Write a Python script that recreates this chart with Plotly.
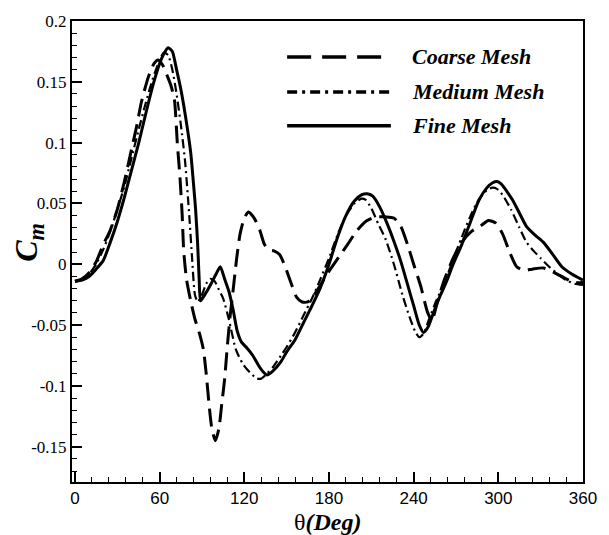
import plotly.graph_objects as go

# ---------------- data ----------------
series_names = ["Coarse Mesh", "Medium Mesh", "Fine Mesh"]

theta_coarse = [0, 5, 10, 15, 20, 25, 30, 35, 40, 44, 47, 52, 56, 59, 62, 65, 68, 70.5,
                72.5, 74.5, 76, 77, 79, 82, 85, 88, 91, 93, 95, 97, 99.5, 102, 104, 106,
                108, 110, 112, 114.5, 117, 120, 123, 127, 131, 134, 137, 141, 145, 149,
                153, 157, 161, 165, 169, 175, 181, 187, 193, 200, 207, 213, 220, 226,
                231, 236, 240, 245, 250, 253, 257, 262, 268, 274, 281, 288, 293, 298,
                303, 308, 313, 318, 324, 332, 340, 348, 354, 360]
cm_coarse = [-0.014, -0.012, -0.007, 0.002, 0.016, 0.028, 0.045, 0.068, 0.094, 0.115,
             0.133, 0.154, 0.165, 0.168, 0.164, 0.156, 0.147, 0.135, 0.100, 0.070, 0.040,
             0.012, -0.012, -0.030, -0.045, -0.056, -0.070, -0.090, -0.115, -0.135,
             -0.145, -0.135, -0.115, -0.095, -0.067, -0.042, -0.022, 0.004, 0.025, 0.038,
             0.043, 0.038, 0.028, 0.017, 0.012, 0.011, 0.008, -0.002, -0.015, -0.027,
             -0.031, -0.031, -0.026, -0.015, -0.004, 0.006, 0.016, 0.028, 0.036, 0.039,
             0.039, 0.038, 0.031, 0.015, 0.000, -0.018, -0.040, -0.046, -0.030, -0.012,
             0.005, 0.018, 0.027, 0.032, 0.036, 0.034, 0.025, 0.010, -0.002, -0.005,
             -0.004, -0.003, -0.007, -0.012, -0.015, -0.015]

theta_medium = [0, 5, 10, 15, 20, 25, 30, 35, 40, 45, 50, 55, 60, 63, 66, 69, 72, 75, 78,
                81, 83, 85, 87, 90, 93, 96, 99, 102, 105, 109, 114, 119, 124, 129, 132,
                136, 140, 146, 150, 156, 162, 168, 174, 180, 186, 192, 198, 203, 206, 210,
                215, 220, 226, 232, 237, 241, 244, 247, 251, 256, 262, 268, 274, 280, 286,
                292, 296, 299, 303, 309, 315, 320, 325, 330, 336, 342, 348, 354, 360]
cm_medium = [-0.014, -0.013, -0.008, 0.000, 0.012, 0.027, 0.045, 0.064, 0.087, 0.110,
             0.132, 0.152, 0.168, 0.174, 0.172, 0.160, 0.140, 0.115, 0.085, 0.040, 0.005,
             -0.025, -0.031, -0.025, -0.016, -0.012, -0.014, -0.021, -0.028, -0.045,
             -0.070, -0.082, -0.089, -0.094, -0.094, -0.090, -0.085, -0.075, -0.068,
             -0.056, -0.042, -0.028, -0.012, 0.005, 0.024, 0.040, 0.050, 0.054, 0.053,
             0.046, 0.033, 0.021, 0.000, -0.025, -0.043, -0.055, -0.060, -0.057, -0.045,
             -0.030, -0.015, 0.004, 0.022, 0.039, 0.053, 0.061, 0.063, 0.062, 0.057,
             0.045, 0.030, 0.018, 0.011, 0.005, -0.002, -0.008, -0.013, -0.016, -0.017]

theta_fine = [0, 5, 10, 15, 20, 25, 30, 35, 40, 45, 50, 55, 60, 63, 66, 69, 72, 75, 78,
              82, 84, 85.5, 87, 88, 89, 92, 96, 100, 103, 106, 109, 112, 115, 118, 122,
              126, 130, 133, 136, 140, 146, 150, 156, 162, 168, 174, 180, 186, 192, 198,
              203, 207, 211, 216, 221, 226, 231, 236, 240, 244, 247, 250, 254, 258, 263,
              268, 274, 280, 286, 292, 296, 299, 302, 306, 310, 315, 320, 326, 332, 338,
              345, 352, 360]
cm_fine = [-0.014, -0.013, -0.010, -0.004, 0.003, 0.018, 0.035, 0.055, 0.077, 0.099,
           0.123, 0.146, 0.165, 0.173, 0.178, 0.175, 0.160, 0.144, 0.124, 0.092, 0.066,
           0.045, 0.015, -0.012, -0.030, -0.025, -0.017, -0.008, -0.002, -0.012, -0.022,
           -0.037, -0.055, -0.064, -0.069, -0.075, -0.083, -0.088, -0.091, -0.088,
           -0.080, -0.072, -0.062, -0.048, -0.034, -0.019, 0.000, 0.022, 0.040, 0.052,
           0.057, 0.058, 0.056, 0.047, 0.034, 0.019, 0.002, -0.018, -0.034, -0.050,
           -0.056, -0.052, -0.040, -0.028, -0.015, 0.000, 0.016, 0.034, 0.052, 0.063,
           0.067, 0.068, 0.066, 0.060, 0.053, 0.042, 0.031, 0.024, 0.018, 0.009, -0.002,
           -0.008, -0.013]

x_tick_vals = [0, 60, 120, 180, 240, 300, 360]
x_tick_text = ["0", "60", "120", "180", "240", "300", "360"]
y_tick_vals = [0.2, 0.15, 0.1, 0.05, 0, -0.05, -0.1, -0.15]
y_tick_text = ["0.2", "0.15", "0.1", "0.05", "0", "-0.05", "-0.1", "-0.15"]

# ---------------- figure ----------------
SERIF = "Liberation Serif, Times New Roman, serif"
SANS = "Liberation Sans, Arial, sans-serif"

plot_styles = [
    dict(dash="18px,8px", width=3),
    dict(dash="9px,4px,2px,4px", width=2.2),
    dict(dash="solid", width=3),
]
legend_styles = [
    dict(dash="24px,11px", width=3.5),
    dict(dash="10px,5px,3px,5px", width=3.5),
    dict(dash="solid", width=3.5),
]

fig = go.Figure()
for name, xs, ys, st in zip(series_names,
                            [theta_coarse, theta_medium, theta_fine],
                            [cm_coarse, cm_medium, cm_fine],
                            plot_styles):
    fig.add_trace(go.Scatter(
        x=xs, y=ys, mode="lines", name=name,
        line=dict(color="black", width=st["width"], dash=st["dash"],
                  shape="spline", smoothing=0.6),
        showlegend=False,
    ))

# hand-drawn legend (long line samples as in the reference)
leg_y = [0.922, 0.846, 0.773]
for name, yy, st in zip(series_names, leg_y, legend_styles):
    fig.add_shape(type="line", xref="paper", yref="paper",
                  x0=0.421, x1=0.624, y0=yy, y1=yy,
                  line=dict(color="black", width=st["width"], dash=st["dash"]))
    fig.add_annotation(xref="paper", yref="paper", x=0.662, y=yy,
                       xanchor="left", yanchor="middle", showarrow=False,
                       text=f"<b><i>{name}</i></b>",
                       font=dict(family=SERIF, size=22, color="black"))

# axis titles
fig.add_annotation(xref="paper", yref="paper", x=-0.085, y=0.52,
                   xanchor="center", yanchor="middle", showarrow=False,
                   textangle=-90,
                   text="<b><i>C<sub>m</sub></i></b>",
                   font=dict(family=SERIF, size=32, color="black"))
fig.add_annotation(xref="paper", yref="paper", x=0.5, y=-0.086,
                   xanchor="center", yanchor="middle", showarrow=False,
                   text="θ<b><i>(Deg)</i></b>",
                   font=dict(family=SERIF, size=24, color="black"))

fig.update_xaxes(
    range=[-2.1, 360], showgrid=False, zeroline=False,
    showline=True, linecolor="black", linewidth=2, mirror=True,
    ticks="inside", ticklen=10, tickwidth=2, tickcolor="black",
    tickvals=x_tick_vals, ticktext=x_tick_text,
    tickfont=dict(family=SANS, size=17, color="black"),
    minor=dict(ticks="inside", ticklen=5, tickwidth=1, tickcolor="black",
               dtick=12, tick0=0, showgrid=False),
)
fig.update_yaxes(
    range=[-0.179, 0.2], showgrid=False, zeroline=False,
    showline=True, linecolor="black", linewidth=2, mirror=True,
    ticks="inside", ticklen=10, tickwidth=2, tickcolor="black",
    tickvals=y_tick_vals, ticktext=y_tick_text,
    tickfont=dict(family=SERIF, size=17, color="black"),
    minor=dict(ticks="inside", ticklen=5, tickwidth=1, tickcolor="black",
               dtick=0.01, tick0=0, showgrid=False),
)

fig.update_layout(
    width=609, height=535,
    margin=dict(l=72, r=15, t=18, b=53),
    plot_bgcolor="white", paper_bgcolor="white",
    showlegend=False,
)

# remove the default page margin so the figure sits at the window's top-left
fig.write_html(
    "out.html",
    config={"displayModeBar": False},
    post_script="document.body.style.margin='0';document.body.style.overflow='hidden';",
)
